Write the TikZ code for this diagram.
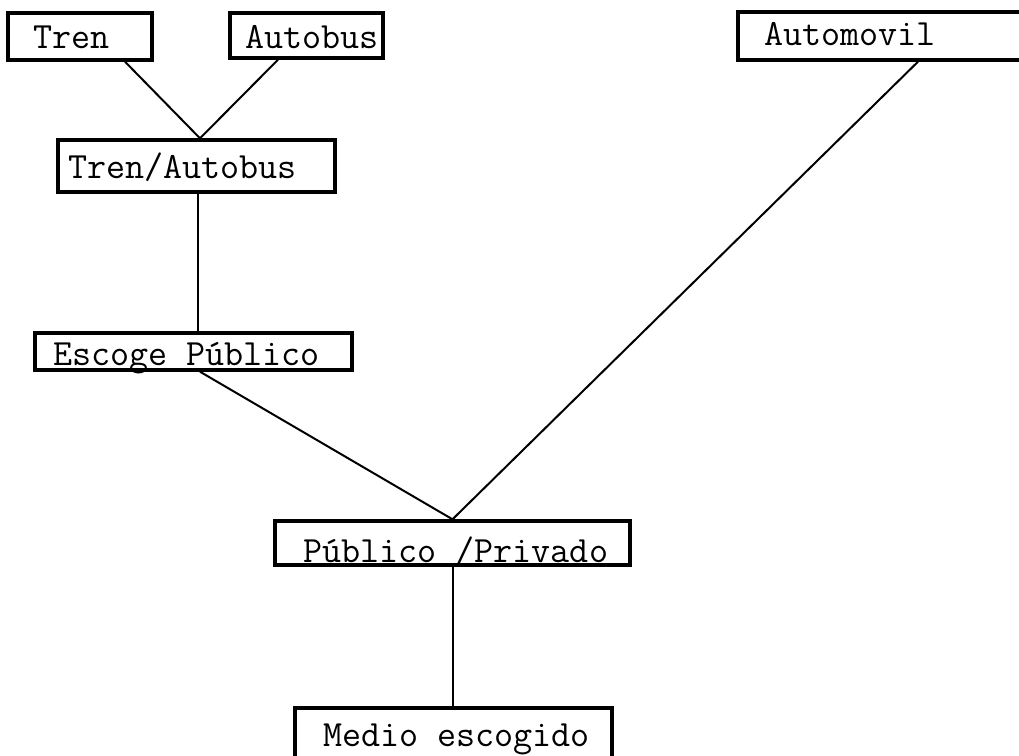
\documentclass[tikz,border=0pt]{standalone}
\usepackage{fontspec}
\begin{document}
\begin{tikzpicture}[x=1pt,y=-1pt,
  box/.style={draw,line width=3.4pt,rectangle,inner sep=0pt},
  lbl/.style={anchor=base west,inner sep=0pt,font=\ttfamily\fontsize{37}{39}\selectfont},
  conn/.style={line width=2pt}]
\useasboundingbox (0,0) rectangle (1019,755);
% boxes
\node[box,minimum width=144pt,minimum height=47pt] (tren) at (80,36.5) {};
\node[box,minimum width=153pt,minimum height=45pt] (bus) at (306.5,35.5) {};
\node[box,minimum width=292pt,minimum height=48pt] (auto) at (884,36) {};
\node[box,minimum width=277pt,minimum height=52pt] (ta) at (196.5,166) {};
\node[box,minimum width=317pt,minimum height=37pt] (esc) at (193.5,351.5) {};
\node[box,minimum width=355pt,minimum height=44pt] (pp) at (452.5,543) {};
\node[box,minimum width=317pt,minimum height=64pt] (med) at (453.5,740) {};
% labels
\node[lbl] at (33,48) {Tren};
\node[lbl] at (245,48) {Autobus};
\node[lbl] at (764,45) {Automovil};
\node[lbl] at (68,178) {Tren/Autobus};
\node[lbl] at (53,365) {Escoge Público};
\node[lbl] at (303,562) {Público /Privado};
\node[lbl] at (323,746) {Medio escogido};
% connectors
\draw[conn] ([xshift=45pt]tren.south) -- ([xshift=3.5pt]ta.north);
\draw[conn] ([xshift=-28.5pt]bus.south) -- ([xshift=3.5pt]ta.north);
\draw[conn] ([xshift=1.5pt]ta.south) -- ([xshift=4.5pt]esc.north);
\draw[conn] ([xshift=6.5pt]esc.south) -- (pp.north);
\draw[conn] ([xshift=34pt]auto.south) -- (pp.north);
\draw[conn] ([xshift=0.5pt]pp.south) -- ([xshift=-0.5pt]med.north);
\end{tikzpicture}
\end{document}
